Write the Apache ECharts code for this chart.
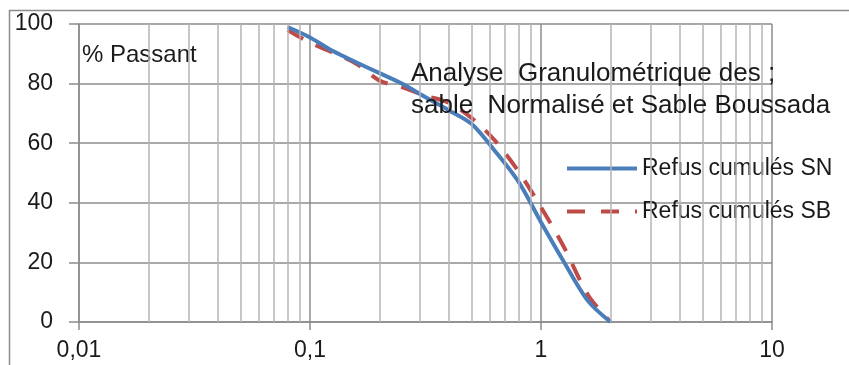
<!DOCTYPE html>
<html>
<head>
<meta charset="utf-8">
<script src="https://cdn.jsdelivr.net/npm/echarts@6/dist/echarts.min.js"></script>
<style>
  html, body { margin: 0; padding: 0; background: #fff; }
  #chart { width: 849px; height: 365px; }
</style>
</head>
<body>
<div id="chart"></div>
<script>
// tamis (mm)
const sieves = [0.08, 0.1, 0.125, 0.16, 0.2, 0.25, 0.315, 0.4, 0.5, 0.63, 0.8, 1, 1.25, 1.6, 2];
// % passant
const refusSN = [99, 95.5, 91, 87, 83.5, 80, 75.5, 71, 66.5, 57.5, 47, 33.5, 20.5, 7, 0];
const refusSB = [98, 93.7, 90.5, 86.5, 81, 78.8, 76, 73.5, 68.5, 61, 50.5, 38.5, 25.5, 9, 0];
// quadrillage secondaire (2..9 de chaque décade)
const minorLines = [0.02, 0.03, 0.04, 0.05, 0.06, 0.07, 0.08, 0.09,
                    0.2, 0.3, 0.4, 0.5, 0.6, 0.7, 0.8, 0.9,
                    2, 3, 4, 5, 6, 7, 8, 9];

const FONT = '"Liberation Sans", Arial, sans-serif';
const BLUE = '#4a7ebb';
const RED = '#be4b48';

const chart = echarts.init(document.getElementById('chart'));
chart.setOption({
  animation: false,
  textStyle: { fontFamily: FONT, color: '#1a1a1a' },
  grid: { left: 79, right: 77, top: 24, bottom: 43 },
  title: {
    text: 'Analyse  Granulométrique des ;\nsable  Normalisé et Sable Boussada',
    left: 406, top: 53,
    textStyle: { fontFamily: FONT, fontSize: 26, fontWeight: 'normal', color: '#1a1a1a', lineHeight: 32 },
  },
  legend: {
    orient: 'vertical', left: 560, top: 152, itemGap: 20,
    itemWidth: 70, itemHeight: 14,
    itemStyle: { opacity: 0 },
    textStyle: { fontFamily: FONT, fontSize: 23, color: '#1a1a1a' },
    data: [
      { name: 'Refus cumulés SN', lineStyle: { width: 4 } },
      { name: 'Refus cumulés SB', lineStyle: { width: 4, type: [18, 16] } },
    ],
  },
  xAxis: {
    type: 'log', logBase: 10, min: 0.01, max: 10,
    axisLine: { show: true, onZero: false, lineStyle: { color: '#8c8c8c', width: 1.5 } },
    axisTick: { show: true, length: 8, lineStyle: { color: '#8c8c8c', width: 1.5 } },
    axisLabel: { fontSize: 23, margin: 17, color: '#1a1a1a', formatter: v => String(v).replace('.', ',') },
    splitLine: { show: true, lineStyle: { color: '#8c8c8c', width: 1.5 } },
  },
  yAxis: {
    type: 'value', min: 0, max: 100, interval: 20,
    axisLine: { show: true, lineStyle: { color: '#8c8c8c', width: 1.5 } },
    axisTick: { show: true, length: 10, lineStyle: { color: '#8c8c8c', width: 1.5 } },
    axisLabel: { fontSize: 23, margin: 26, color: '#1a1a1a' },
    splitLine: { show: true, lineStyle: { color: '#8c8c8c', width: 1.5 } },
  },
  graphic: [
    { type: 'line', shape: { x1: 9.5, y1: 10, x2: 9.5, y2: 365 }, style: { stroke: '#8c8c8c', lineWidth: 1.5 } },
    { type: 'line', shape: { x1: 9, y1: 10.5, x2: 849, y2: 10.5 }, style: { stroke: '#8c8c8c', lineWidth: 1.5 } },
    { type: 'text', left: 82, top: 43, style: { text: '% Passant', font: '24px ' + FONT, fill: '#1a1a1a' } },
  ],
  series: [
    {
      name: 'grille', type: 'line', data: [], z: 1, silent: true,
      markLine: {
        silent: true, symbol: 'none', label: { show: false },
        lineStyle: { color: '#b4b4b4', width: 1.5, type: 'solid' },
        data: minorLines.map(v => ({ xAxis: v })),
      },
    },
    {
      name: 'Refus cumulés SN', type: 'line', z: 4, smooth: 0.3,
      showSymbol: false, symbol: 'none',
      data: sieves.map((s, i) => [s, refusSN[i]]),
      lineStyle: { color: BLUE, width: 4 },
      itemStyle: { color: BLUE },
    },
    {
      name: 'Refus cumulés SB', type: 'line', z: 3, smooth: 0.3,
      showSymbol: false, symbol: 'none',
      data: sieves.map((s, i) => [s, refusSB[i]]),
      lineStyle: { color: RED, width: 4, type: [18, 14] },
      itemStyle: { color: RED },
    },
  ],
});
</script>
</body>
</html>
